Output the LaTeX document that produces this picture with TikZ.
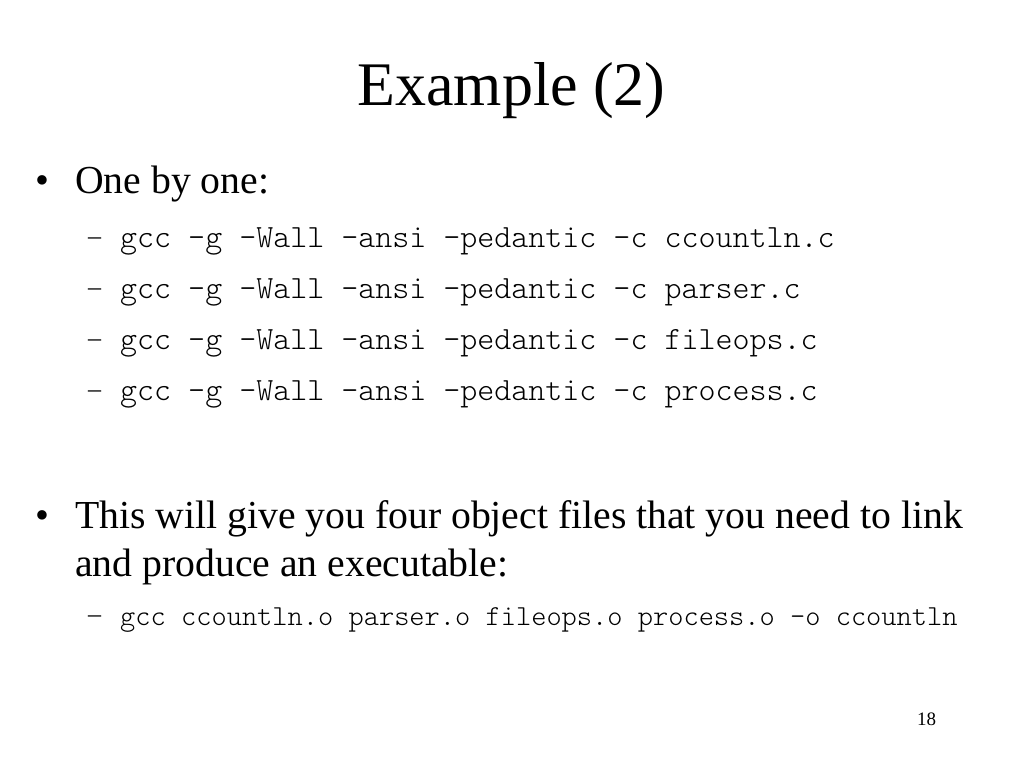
\documentclass[tikz,border=0pt]{standalone}
\usepackage{fontspec}
\setmainfont{Liberation Serif}
\newfontfamily\codefont{lmmonolt10-regular.otf}
\begin{document}
\begin{tikzpicture}[x=1pt,y=-1pt,
  txt/.style={inner sep=0pt,anchor=base west},
  titlefont/.style={font=\fontsize{62}{62}\selectfont},
  bodyfont/.style={font=\fontsize{39.7}{39.7}\selectfont},
  codeA/.style={font=\codefont\fontsize{32.4}{32.4}\selectfont},
  codeB/.style={font=\codefont\fontsize{29}{29}\selectfont},
  dashfont/.style={font=\fontsize{26}{26}\selectfont}]
\useasboundingbox[fill=white] (0,0) rectangle (1024,768);
\node[inner sep=0pt,anchor=base,titlefont] (title) at (511.5,105) {Example (2)};
% bullet 1
\node[txt,bodyfont] (b1) at (35,193) {\textbullet};
\node[txt,bodyfont] (t1) at (75,193) {One by one:};
\foreach \y/\f [count=\i] in {247/ccountln.c,298/parser.c,349/fileops.c,400/process.c}{
  \node[txt,dashfont] (d\i) at (88,\y-3) {--};
  \node[txt,codeA] (c\i) at (120,\y) {gcc -g -Wall -ansi -pedantic -c \f};
}
% bullet 2
\node[txt,bodyfont] (b2) at (35,528) {\textbullet};
\node[txt,bodyfont] (t2) at (75,528) {This will give you four object files that you need to link};
\node[txt,bodyfont] (t3) at (75,576) {and produce an executable:};
\node[txt,dashfont] (d5) at (88,622) {--};
\node[txt,codeB] (c5) at (120,625) {gcc ccountln.o parser.o fileops.o process.o -o ccountln};
% page number
\node[txt,font=\fontsize{19}{19}\selectfont] (pg) at (917,725) {18};
\end{tikzpicture}
\end{document}
